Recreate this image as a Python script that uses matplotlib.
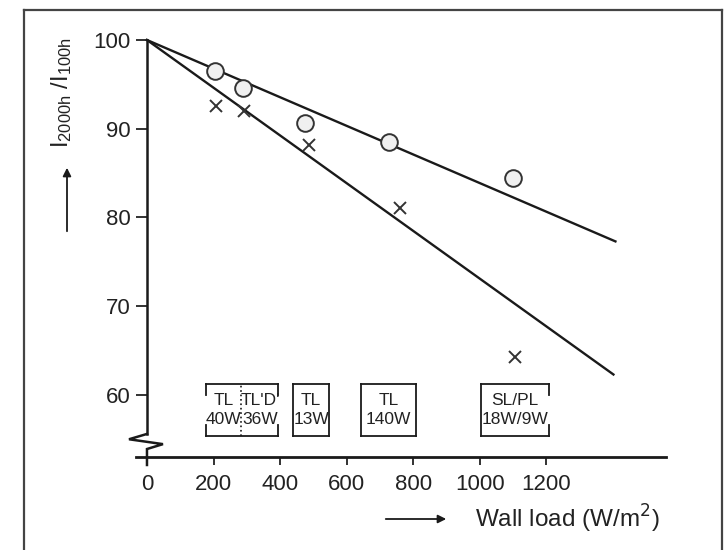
import matplotlib.pyplot as plt
from matplotlib.lines import Line2D

plt.rcParams['font.family'] = ['Liberation Sans', 'DejaVu Sans']

# Messpunkte (Wandbelastung W/m2, relativer Lichtstrom in %)
circle_x = [204, 289, 475, 728, 1101]
circle_y = [96.5, 94.6, 90.6, 88.5, 84.5]
cross_x = [208, 292, 487, 761, 1107]
cross_y = [92.6, 92.0, 88.2, 81.1, 64.3]

# Ausgleichsgeraden
upper_x = [0, 1408]
upper_y = [100, 77.3]
lower_x = [0, 1402]
lower_y = [100, 62.3]

# Lampentypen-Kaesten
box_left = [177, 439, 644, 1005]
box_right = [394, 547, 809, 1209]
box_split = 283
box_bottom, box_top = 55.4, 61.2
box_labels = [['TL\n40W', "TL'D'\n36W"], ['TL\n13W'], ['TL\n140W'], ['SL/PL\n18W/9W']]

xticks = [0, 200, 400, 600, 800, 1000, 1200]
yticks = [60, 70, 80, 90, 100]

fig = plt.figure(figsize=(7.24, 5.5), dpi=100)
ax = fig.add_axes([136 / 724, 93 / 550, 530 / 724, 417 / 550])
ax.set_xlim(-33, 1560)
ax.set_ylim(53, 100)

lc = '#1a1a1a'
ax.plot(upper_x, upper_y, color=lc, lw=1.7, clip_on=False)
ax.plot(lower_x, lower_y, color=lc, lw=1.7, clip_on=False)
ax.plot(circle_x, circle_y, 'o', ms=12, mfc='#f0f0f0', mec='#333333', mew=1.4, clip_on=False)
ax.plot(cross_x, cross_y, 'x', ms=9, color='#333333', mew=1.4, clip_on=False)

# Kaesten zeichnen
tick_h = 1.2
for i, (l, r) in enumerate(zip(box_left, box_right)):
    ax.plot([l, r], [box_top, box_top], color=lc, lw=1.3)
    ax.plot([l, r], [box_bottom, box_bottom], color=lc, lw=1.3)
    if i in (1, 2):
        ax.plot([l, l], [box_bottom, box_top], color=lc, lw=1.3)
        ax.plot([r, r], [box_bottom, box_top], color=lc, lw=1.3)
    else:
        sides = [r] if i == 3 else [l, r]
        if i == 3:
            ax.plot([l, l], [box_bottom, box_top], color=lc, lw=1.3)
        for s in sides:
            ax.plot([s, s], [box_top, box_top - tick_h], color=lc, lw=1.3)
            ax.plot([s, s], [box_bottom, box_bottom + tick_h], color=lc, lw=1.3)
    labels = box_labels[i]
    if len(labels) == 2:
        ax.plot([box_split, box_split], [box_bottom, box_top], color=lc, lw=1.2, ls=':')
        centers = [(l + box_split) / 2, (box_split + r) / 2 + 3]
    else:
        centers = [(l + r) / 2]
    for c, lab in zip(centers, labels):
        ax.text(c, (box_top + box_bottom) / 2, lab, ha='center', va='center',
                fontsize=12.5, linespacing=1.3, color='#222222')

# Achsen
for s in ['top', 'right']:
    ax.spines[s].set_visible(False)
ax.spines['bottom'].set_linewidth(2.0)
ax.spines['bottom'].set_color(lc)
ax.spines['left'].set_position(('data', 0))
ax.spines['left'].set_bounds(55.6, 100)
ax.spines['left'].set_linewidth(1.8)
ax.spines['left'].set_color(lc)

# Achsenbruch
ax.plot([0, -54, 48, 0, 0], [55.6, 55.0, 54.45, 53.9, 52.1], color=lc, lw=1.8,
        clip_on=False, solid_joinstyle='miter')

ax.set_xticks(xticks)
ax.set_yticks(yticks)
ax.tick_params(axis='both', labelsize=16, colors='#222222', width=1.3)
ax.tick_params(axis='x', direction='out', length=6, pad=6)
ax.tick_params(axis='y', direction='out', length=8, pad=4)

# Beschriftungen
fig.text(62 / 724, 1 - 92 / 550, r'$\mathregular{I_{2000h}}$ /$\mathregular{I_{100h}}$',
         rotation=90, ha='center', va='center', fontsize=17, color='#222222')
fig.add_artist(plt.Annotation('', xy=(67 / 724, 1 - 165 / 550), xytext=(67 / 724, 1 - 234 / 550),
                              xycoords='figure fraction',
                              arrowprops=dict(arrowstyle='-|>', color=lc, lw=1.3, mutation_scale=12)))
fig.text(475 / 724, 1 - 519 / 550, 'Wall load (W/m$^2$)', ha='left', va='center',
         fontsize=17.5, color='#222222')
fig.add_artist(plt.Annotation('', xy=(449 / 724, 1 - 519 / 550), xytext=(383 / 724, 1 - 519 / 550),
                              xycoords='figure fraction',
                              arrowprops=dict(arrowstyle='-|>', color=lc, lw=1.3, mutation_scale=12)))

# Rahmen
fc = '#444444'
fig.add_artist(Line2D([24 / 724, 24 / 724], [0, 1 - 10 / 550], color=fc, lw=1.6))
fig.add_artist(Line2D([24 / 724, 722 / 724], [1 - 10 / 550, 1 - 10 / 550], color=fc, lw=1.6))
fig.add_artist(Line2D([722 / 724, 722 / 724], [0, 1 - 10 / 550], color=fc, lw=1.6))

fig.savefig('out.png', dpi=100)
